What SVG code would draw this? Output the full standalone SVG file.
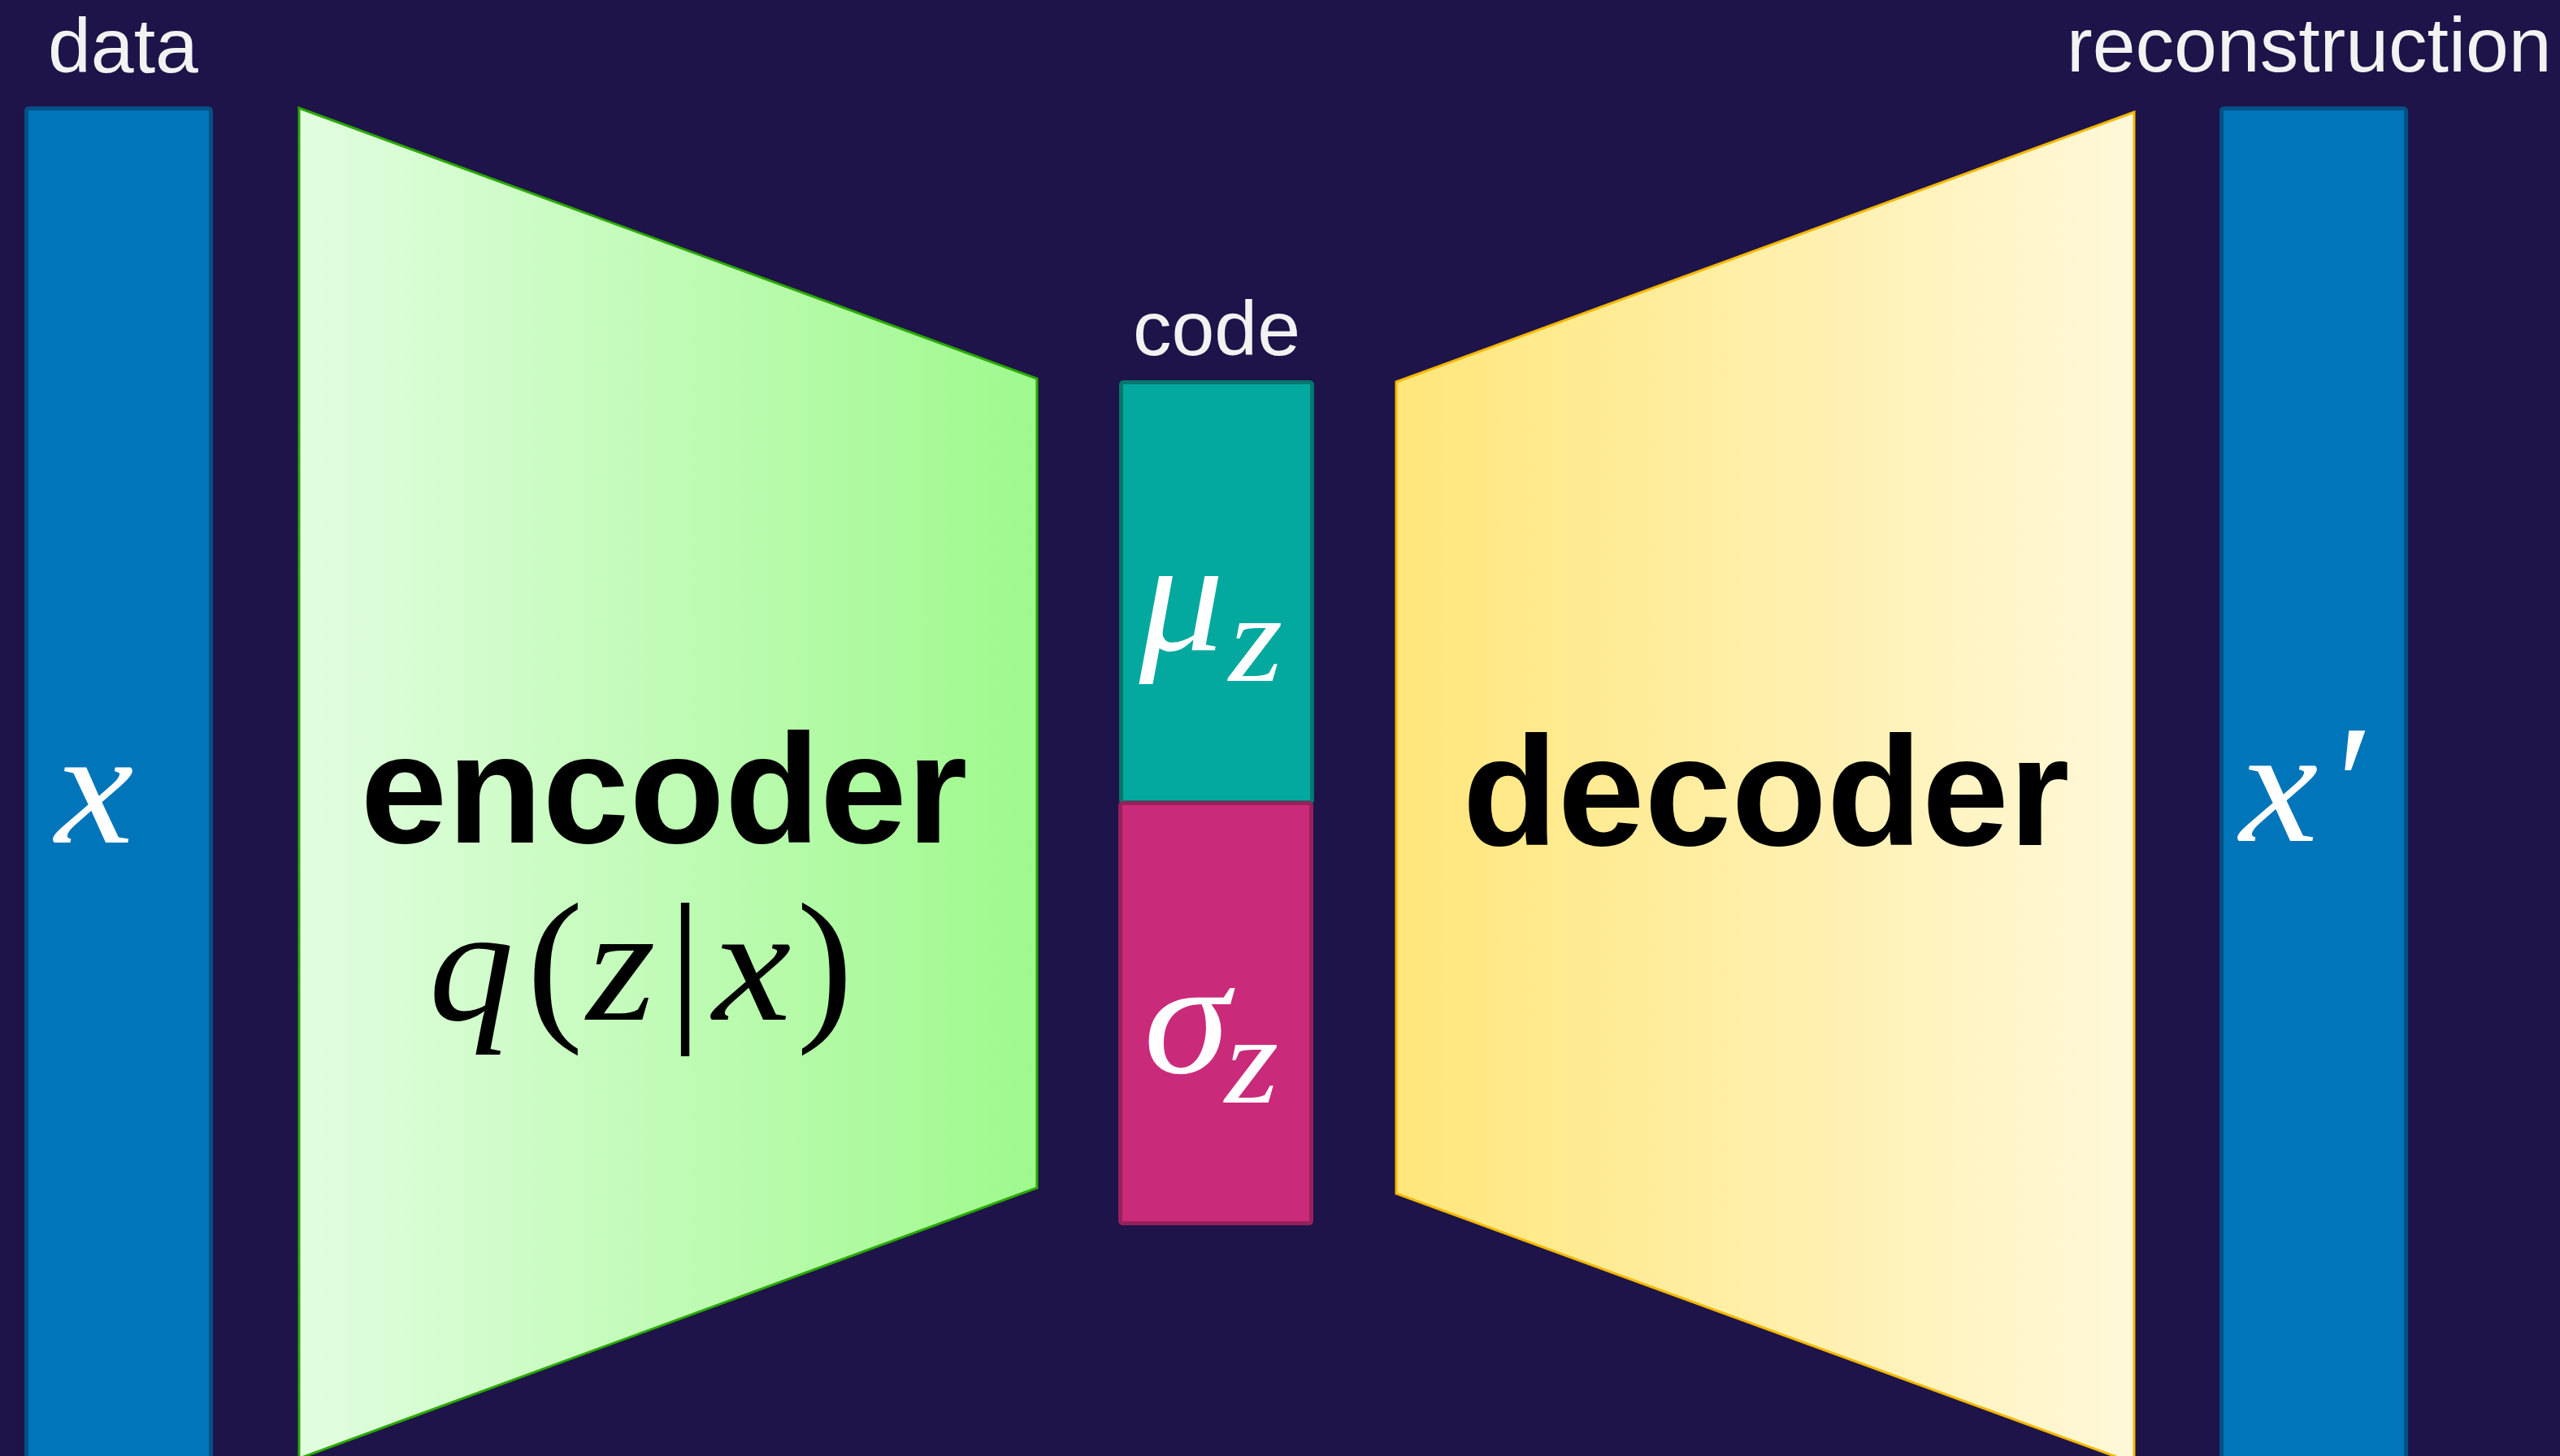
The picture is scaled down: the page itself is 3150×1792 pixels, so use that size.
<svg xmlns="http://www.w3.org/2000/svg" width="3150" height="1792" viewBox="0 0 3150 1792">
<defs>
<linearGradient id="gEnc" x1="368" y1="0" x2="1276" y2="0" gradientUnits="userSpaceOnUse">
<stop offset="0" stop-color="#e2fde0"/>
<stop offset="1" stop-color="#9ef98c"/>
</linearGradient>
<linearGradient id="gDec" x1="1718" y1="0" x2="2626" y2="0" gradientUnits="userSpaceOnUse">
<stop offset="0" stop-color="#ffe67a"/>
<stop offset="1" stop-color="#fff8d9"/>
</linearGradient>
</defs>
<style>
.lbl{font-family:"Liberation Sans",Arial,sans-serif;font-size:95px;fill:#f2f2f2}
.big{font-family:"Liberation Sans",Arial,sans-serif;font-size:192px;font-weight:bold;fill:#000;text-anchor:middle}
.m{font-family:"Liberation Serif","Times New Roman",serif;font-style:italic;font-size:198px;text-anchor:middle}
.mu{font-family:"Liberation Serif","Times New Roman",serif;font-size:208px;text-anchor:middle}
.sub{font-family:"Liberation Serif","Times New Roman",serif;font-style:italic;font-size:152px;text-anchor:middle}
.w{fill:#ffffff}
.k{fill:#000000}
.bar{fill:#0075b9;stroke:#005286;stroke-width:5}
</style>
<rect x="0" y="0" width="3150" height="1792" fill="#1e1449"/>

<g id="data">
<text class="lbl" x="59" y="89">data</text>
<rect class="bar" x="32.5" y="133.5" width="227" height="1680" rx="3"/>
<text class="m w" transform="translate(116,1037) scale(1.1,1.02)">x</text>
</g>

<g id="encoder">
<polygon points="368,133 1276,466 1276,1462 368,1795" fill="url(#gEnc)" stroke="#2aa800" stroke-width="3"/>
<text class="big" x="817" y="1037">encoder</text>
<text class="m k" transform="translate(580,1255) scale(1.06,1.02)">q</text>
<text class="mu k" x="683" y="1255">(</text>
<text class="m k" transform="translate(764,1255) scale(1.1,1.02)">z</text>
<text class="mu k" x="843" y="1255">|</text>
<text class="m k" transform="translate(925,1255) scale(1.1,1.02)">x</text>
<text class="mu k" x="1015" y="1255">)</text>
</g>

<g id="code">
<text class="lbl" x="1497" y="437" text-anchor="middle">code</text>
<g id="mu">
<rect x="1379.5" y="470.5" width="235" height="517" rx="3" fill="#03a99e" stroke="#00786e" stroke-width="5"/>
<text class="m w" transform="translate(1454,800) scale(1.05,1)">μ</text>
<text class="sub w" transform="translate(1545,838) scale(1.12,1.02)">z</text>
</g>
<g id="sigma">
<rect x="1378.5" y="988.5" width="235" height="517" rx="3" fill="#ca2a7a" stroke="#97205c" stroke-width="5"/>
<text class="m w" transform="translate(1460,1320) scale(1.08,1.02)">σ</text>
<text class="sub w" transform="translate(1540,1357) scale(1.12,1.02)">z</text>
</g>
</g>

<g id="decoder">
<polygon points="1718,470 2626,138 2626,1801 1718,1469" fill="url(#gDec)" stroke="#f5b800" stroke-width="3"/>
<text class="big" x="2173" y="1040">decoder</text>
</g>

<g id="reconstruction">
<text class="lbl" x="2543" y="88">reconstruction</text>
<rect class="bar" x="2733.5" y="133.5" width="227" height="1680" rx="3"/>
<text class="m w" transform="translate(2804,1035) scale(1.1,1.02)">x</text>
<text class="mu w" x="2885" y="1035" style="font-style:italic">′</text>
</g>

<g id="connectors"></g>
</svg>
